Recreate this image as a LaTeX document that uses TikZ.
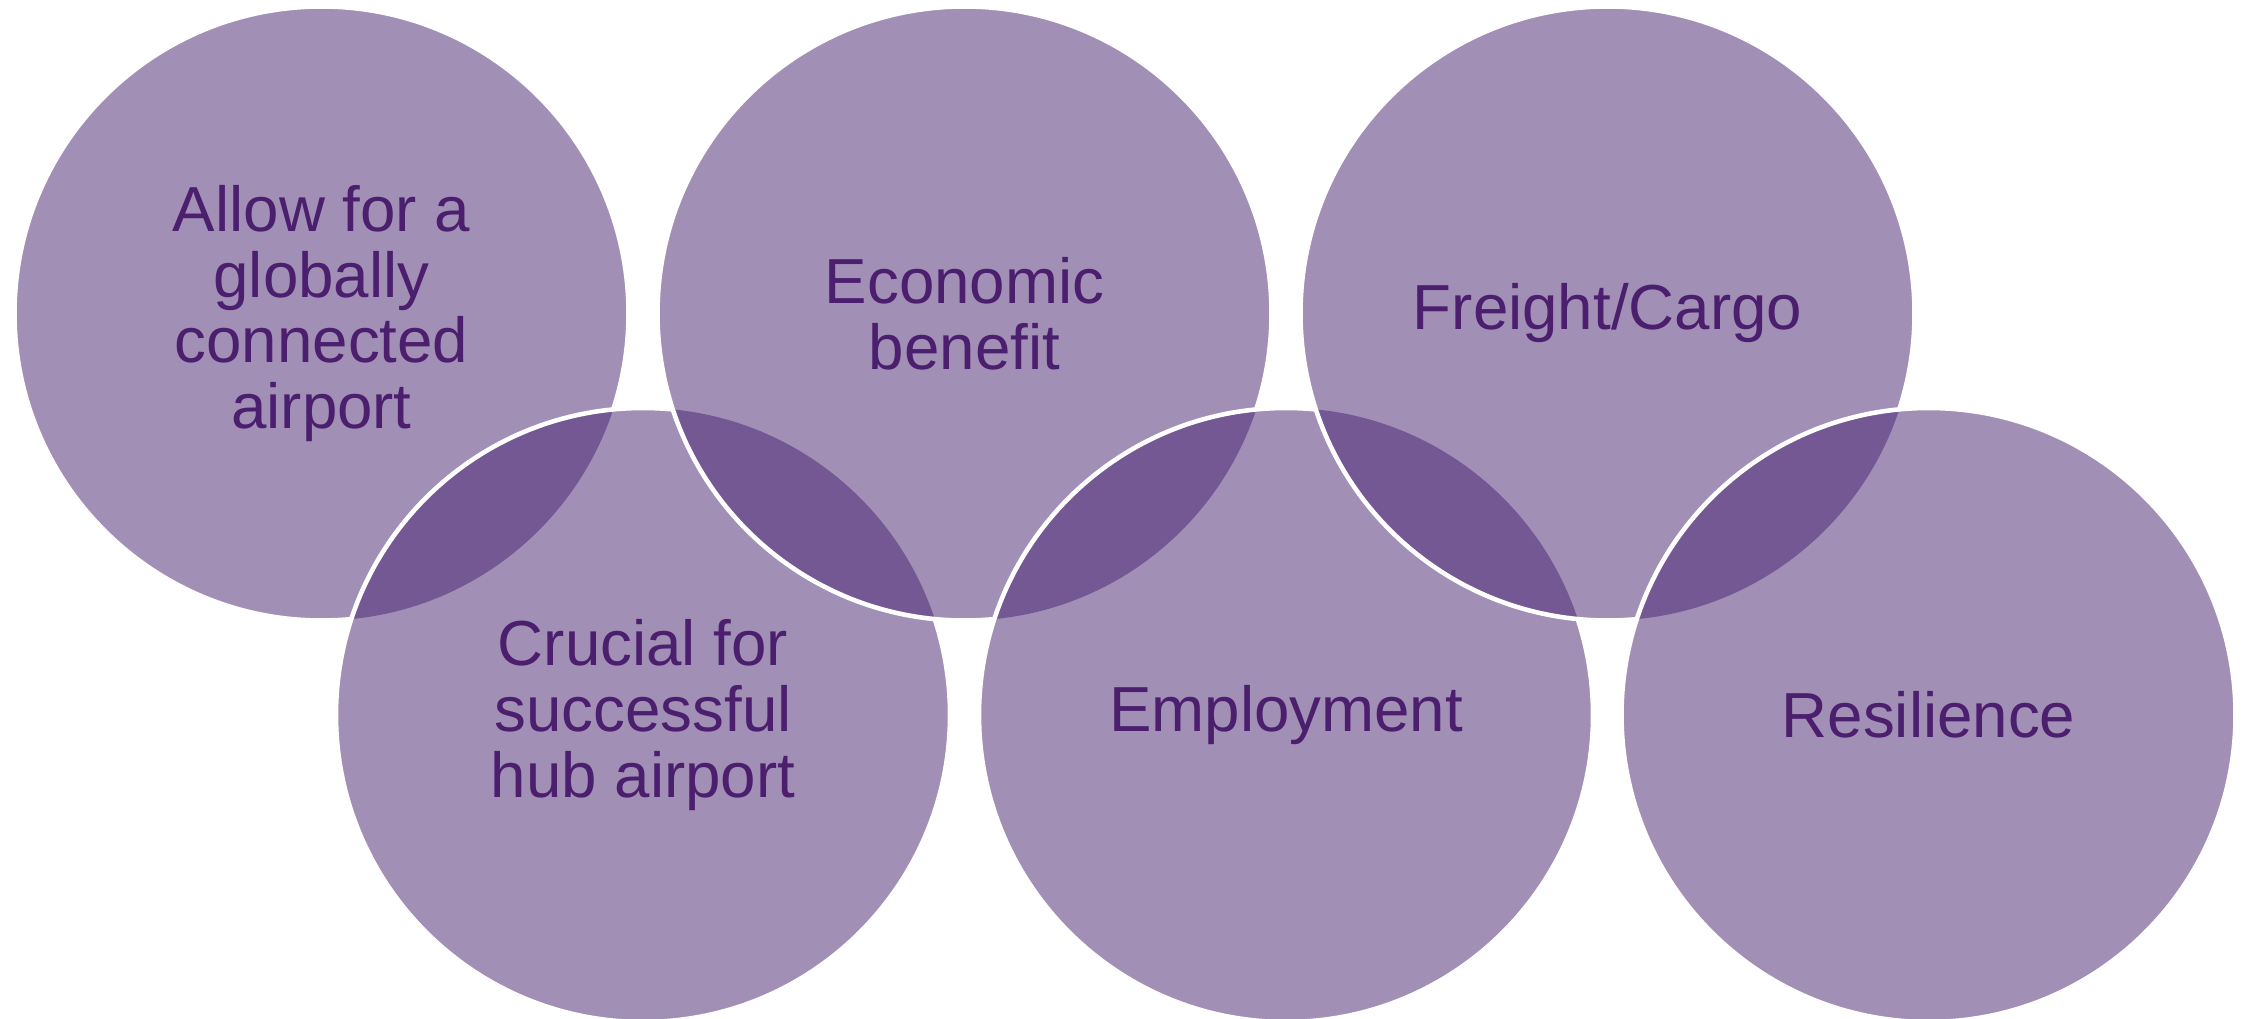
\documentclass[tikz,border=0pt]{standalone}
\usepackage{fontspec}
\setmainfont{Liberation Sans}
\definecolor{bubblefill}{HTML}{A18FB6}
\definecolor{lensfill}{HTML}{745893}
\definecolor{labeltext}{HTML}{4B1E6E}

\begin{document}
\begin{tikzpicture}[x=0.01cm, y=-0.01cm,
        disc/.style={fill=bubblefill},
        lens/.style={fill=lensfill},
        ring/.style={draw=white, line width=1.3pt}]
                \useasboundingbox (0,0) rectangle (2252,1019);
                \coordinate (T1) at (321.5,313.5);
                \coordinate (B1) at (643,715);
                \coordinate (T2) at (964.5,313.5);
                \coordinate (B2) at (1286,715);
                \coordinate (T3) at (1607.5,313.5);
                \coordinate (B3) at (1928.5,715);
                \def\rad{307}
                % circles, each one laid over the one before it
                \path[disc] (T1) circle [radius=\rad];
                \path[ring] (T1) circle [radius=\rad];
                \path[disc] (B1) circle [radius=\rad];
                \begin{scope}
                        \clip (T1) circle [radius=\rad];
                        \path[lens] (B1) circle [radius=\rad];
                \end{scope}
                \path[ring] (B1) circle [radius=\rad];
                \path[disc] (T2) circle [radius=\rad];
                \begin{scope}
                        \clip (B1) circle [radius=\rad];
                        \path[lens] (T2) circle [radius=\rad];
                \end{scope}
                \path[ring] (T2) circle [radius=\rad];
                \path[disc] (B2) circle [radius=\rad];
                \begin{scope}
                        \clip (T2) circle [radius=\rad];
                        \path[lens] (B2) circle [radius=\rad];
                \end{scope}
                \path[ring] (B2) circle [radius=\rad];
                \path[disc] (T3) circle [radius=\rad];
                \begin{scope}
                        \clip (B2) circle [radius=\rad];
                        \path[lens] (T3) circle [radius=\rad];
                \end{scope}
                \path[ring] (T3) circle [radius=\rad];
                \path[disc] (B3) circle [radius=\rad];
                \begin{scope}
                        \clip (T3) circle [radius=\rad];
                        \path[lens] (B3) circle [radius=\rad];
                \end{scope}
                \path[ring] (B3) circle [radius=\rad];
                % labels
                \begin{scope}[every node/.style={text=labeltext, align=center, inner sep=0pt,
                        font=\fontsize{18.1}{18.7}\selectfont}]
                        \node (connected) at (T1) {Allow for a\\globally\\connected\\airport};
                        \node (hub) at (B1) {Crucial for\\successful\\hub airport};
                        \node (economic) at (T2) {Economic\\benefit};
                        \node (employment) at (B2) {Employment};
                        \node (freight) at (T3) {Freight/Cargo};
                        \node (resilience) at (B3) {Resilience};
                \end{scope}
\end{tikzpicture}
\end{document}
